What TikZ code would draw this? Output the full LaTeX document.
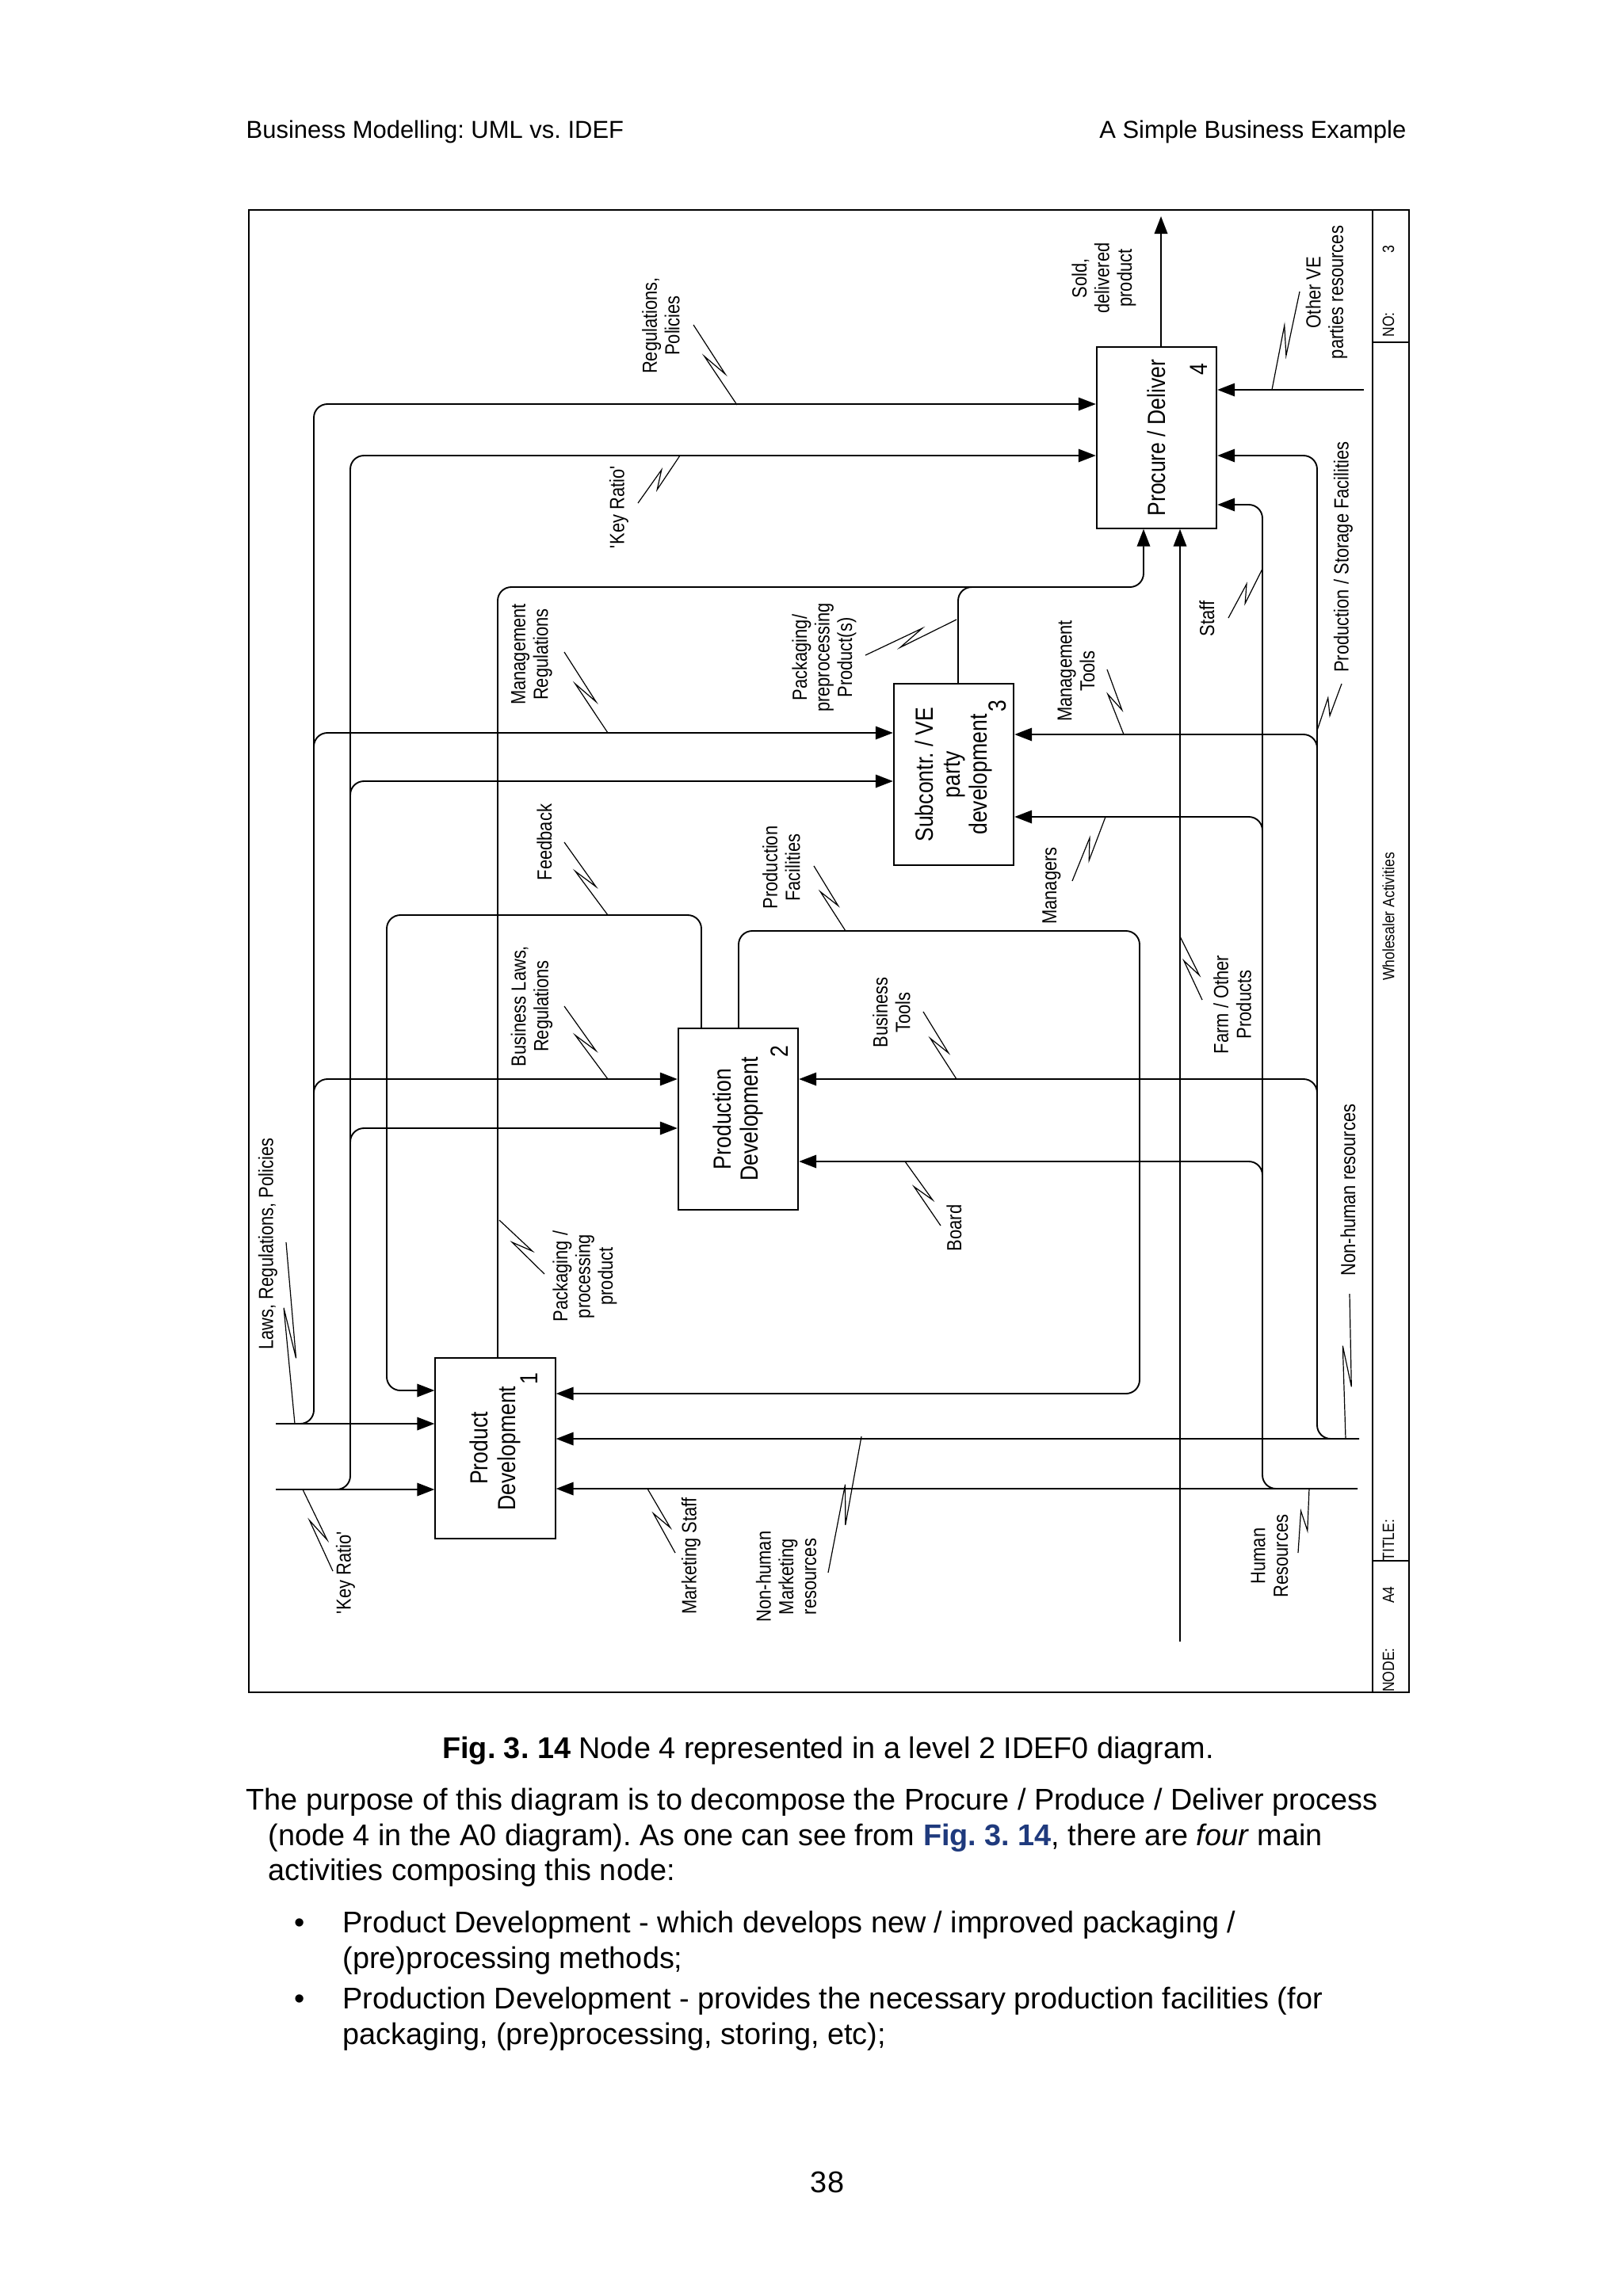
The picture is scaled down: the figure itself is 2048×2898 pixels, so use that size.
\documentclass[tikz,border=0pt]{standalone}
\usepackage{fontspec}
\setmainfont{Liberation Sans}
\newfontfamily\dgm[FakeStretch=0.85]{Liberation Sans}
\usetikzlibrary{arrows.meta,calc}
\definecolor{figblue}{RGB}{31,58,125}
\frenchspacing
\tikzset{
  box/.style={draw, line width=0.6pt, minimum width=44pt, minimum height=66.4pt, inner sep=0pt},
  conn/.style={line width=0.55pt, rounded corners=5pt},
  arr/.style={conn, -{Triangle[length=6.4pt,width=4.8pt]}},
  sq/.style={line width=0.35pt},
  lab/.style={font=\dgm\fontsize{7.5}{8.3}\selectfont, rotate=90, align=center, inner sep=0pt},
  btxt/.style={font=\dgm\fontsize{9.1}{10}\selectfont, rotate=90, align=center, inner sep=0pt},
  tb/.style={font=\dgm\fontsize{6}{7}\selectfont, rotate=90, inner sep=0pt},
  body/.style={font=\fontsize{11}{13}\selectfont, anchor=base west, inner sep=0pt},
}
\newcommand\squig[2]{%
  \draw[sq] (#1) -- ($(#1)!0.64!(#2)!1.6pt!90:(#2)$) -- ($(#1)!0.36!(#2)!2pt!-90:(#2)$) -- (#2);}
\begin{document}
\frenchspacing
\begin{tikzpicture}[x=0.2908pt,y=-0.2908pt]
\useasboundingbox (0,0) rectangle (2048,2898);
% header
\node[font=\fontsize{9}{11}\selectfont, anchor=base west, inner sep=0pt] (hdrL) at (310,174) {Business Modelling: UML vs. IDEF};
\node[font=\fontsize{9}{11}\selectfont, anchor=base east, inner sep=0pt] (hdrR) at (1775,174) {A Simple Business Example};
% frame and title block
\draw[line width=0.6pt] (314,265) rectangle (1778,2136);
\draw[line width=0.6pt] (1732,265) -- (1732,2136);
\draw[line width=0.6pt] (1732,432) -- (1778,432);
\draw[line width=0.6pt] (1732,1970) -- (1778,1970);
\node[tb] (tbno) at (1752,410) {NO:};
\node[tb] (tbnum) at (1752,315) {3};
\node[tb] (tbtitle) at (1752,1944) {TITLE:};
\node[tb] (tbwa) at (1752,1157) {Wholesaler Activities};
\node[tb] (tba4) at (1752,2013) {A4};
\node[tb] (tbnode) at (1752,2108) {NODE:};
% boxes
\node[box] (b4) at (1459.5,552.5) {};
\node[box] (b3) at (1203.5,977.5) {};
\node[box] (b2) at (931.5,1412.5) {};
\node[box] (b1) at (625,1828) {};
\node[btxt] (t4) at (b4) {Procure / Deliver};
\node[btxt] (t3) at (b3) {Subcontr. / VE\\party\\development};
\node[btxt] (t2) at (b2) {Production\\Development};
\node[btxt] (t1) at (b1) {Product\\Development};
\node[btxt] (n4) at (1513,466) {4};
\node[btxt] (n3) at (1259,891) {3};
\node[btxt] (n2) at (984,1327) {2};
\node[btxt] (n1) at (668,1740) {1};
% free ends
\coordinate (laws) at (348,1797);
\coordinate (key) at (348,1880);
\coordinate (nonhum) at (1715,1816);
\coordinate (hum) at (1713,1879);
\coordinate (other) at (1721,492);
\coordinate (farm) at (1489,2072);
\coordinate (sold) at (1465,273);
% laws chain
\draw[arr] (laws) -- (b1.west |- laws);
\draw[arr] (laws) -- (396,1797) -- (396,510) -- (b4.west |- 0,510);
\draw[arr] (396,960) -- (396,925) -- (b3.west |- 0,925);
\draw[arr] (396,1400) -- (396,1362) -- (b2.west |- 0,1362);
% key ratio chain
\draw[arr] (key) -- (b1.west |- key);
\draw[arr] (key) -- (442,1880) -- (442,575) -- (b4.west |- 0,575);
\draw[arr] (442,1020) -- (442,986) -- (b3.west |- 0,986);
\draw[arr] (442,1460) -- (442,1424) -- (b2.west |- 0,1424);
% feedback
\draw[arr] (b2.north -| 885,0) -- (885,1155) -- (488,1155) -- (488,1755) -- (b1.west |- 0,1755);
% production facilities
\draw[arr] (b2.north -| 932,0) -- (932,1175) -- (1438,1175) -- (1438,1759) -- (b1.east |- 0,1759);
% packaging
\draw[arr] (b1.north -| 628,0) -- (628,741) -- (1443,741) -- (b4.south -| 1443,0);
\draw[conn] (b3.north -| 1209,0) -- (1209,741) -- (1260,741);
% box 4 output and external arrows
\draw[arr] (b4.north -| sold) -- (sold);
\draw[arr] (other) -- (b4.east |- other);
\draw[arr] (farm) -- (b4.south -| farm);
% non-human chain
\draw[arr] (nonhum) -- (b1.east |- nonhum);
\draw[arr] (nonhum) -- (1662,1816) -- (1662,575) -- (b4.east |- 0,575);
\draw[arr] (1662,960) -- (1662,927) -- (b3.east |- 0,927);
\draw[arr] (1662,1400) -- (1662,1362) -- (b2.east |- 0,1362);
% human chain
\draw[arr] (hum) -- (b1.east |- hum);
\draw[arr] (hum) -- (1593,1879) -- (1593,637) -- (b4.east |- 0,637);
\draw[arr] (1593,1060) -- (1593,1031) -- (b3.east |- 0,1031);
\draw[arr] (1593,1500) -- (1593,1466) -- (b2.east |- 0,1466);
% labels
\node[lab] (lRegPol) at (834,411) {Regulations,\\Policies};
\node[lab] (lKey1) at (781,640) {\textquotesingle Key Ratio\textquotesingle};
\node[lab] (lMgmtReg) at (671,826) {Management\\Regulations};
\node[lab] (lFeed) at (687,1063) {Feedback};
\node[lab] (lBusLaw) at (671,1270) {Business Laws,\\Regulations};
\node[lab] (lPackProc) at (738,1611) {Packaging /\\processing\\product};
\node[lab] (lProdFac) at (986,1095) {Production\\Facilities};
\node[lab] (lPackPre) at (1040,830) {Packaging/\\preprocessing\\Product(s)};
\node[lab] (lBusTools) at (1125,1278) {Business\\Tools};
\node[lab] (lBoard) at (1204,1550) {Board};
\node[lab] (lMgmtTools) at (1358,847) {Management\\Tools};
\node[lab] (lManagers) at (1327,1118) {Managers};
\node[lab] (lStaff) at (1523,781) {Staff};
\node[lab] (lPSF) at (1695,703) {Production / Storage Facilities};
\node[lab] (lOther) at (1674,369) {Other VE\\parties resources};
\node[lab] (lFarm) at (1555,1268) {Farm / Other\\Products};
\node[lab] (lNonHum) at (1701,1502) {Non-human resources};
\node[lab] (lHum) at (1602,1964) {Human\\Resources};
\node[lab] (lMktStaff) at (872,1964) {Marketing Staff};
\node[lab] (lMktRes) at (992,1990) {Non-human\\Marketing\\resources};
\node[lab] (lLaws) at (338,1570) {Laws, Regulations, Policies};
\node[lab] (lKey2) at (436,1985) {\textquotesingle Key Ratio\textquotesingle};
\node[lab] (lSold) at (1393,351) {Sold,\\delivered\\product};
% squiggles
\squig{875,410}{930,511}
\squig{805,635}{858,575}
\squig{712,823}{767,925}
\squig{712,1063}{767,1155}
\squig{712,1270}{767,1362}
\squig{687,1608}{630,1540}
\squig{1027,1093}{1067,1175}
\squig{1092,827}{1207,782}
\squig{1165,1277}{1207,1362}
\squig{1187,1547}{1142,1466}
\squig{1397,845}{1418,927}
\squig{1353,1112}{1395,1031}
\squig{1550,780}{1593,718}
\squig{1693,863}{1662,922}
\squig{1640,368}{1605,492}
\squig{1517,1262}{1489,1182}
\squig{1703,1633}{1698,1816}
\squig{1638,1960}{1652,1879}
\squig{852,1960}{817,1879}
\squig{1045,1985}{1087,1813}
\squig{361,1568}{372,1797}
\squig{420,1983}{382,1880}
% caption and text
\node[font=\fontsize{11}{13}\selectfont, anchor=base, inner sep=0pt] (cap) at (1045,2219) {\textbf{Fig. 3. 14} Node 4 represented in a level 2 IDEF0 diagram.};
\node[body] (p1) at (310,2284) {The purpose of this diagram is to decompose the Procure / Produce / Deliver process};
\node[body] (p2) at (338,2329) {(node 4 in the A0 diagram). As one can see from \textcolor{figblue}{\textbf{Fig. 3. 14}}, there are \textit{four} main};
\node[body] (p3) at (338,2373) {activities composing this node:};
\node[font=\fontsize{11}{13}\selectfont, anchor=base, inner sep=0pt] (bu1) at (378,2439) {\textbullet};
\node[body] (q1) at (432,2439) {Product Development - which develops new / improved packaging /};
\node[body] (q2) at (432,2484) {(pre)processing methods;};
\node[font=\fontsize{11}{13}\selectfont, anchor=base, inner sep=0pt] (bu2) at (378,2535) {\textbullet};
\node[body] (q3) at (432,2535) {Production Development - provides the necessary production facilities (for};
\node[body] (q4) at (432,2580) {packaging, (pre)processing, storing, etc);};
\node[font=\fontsize{11}{13}\selectfont, anchor=base, inner sep=0pt] (pg) at (1044,2767) {38};
\end{tikzpicture}
\end{document}
